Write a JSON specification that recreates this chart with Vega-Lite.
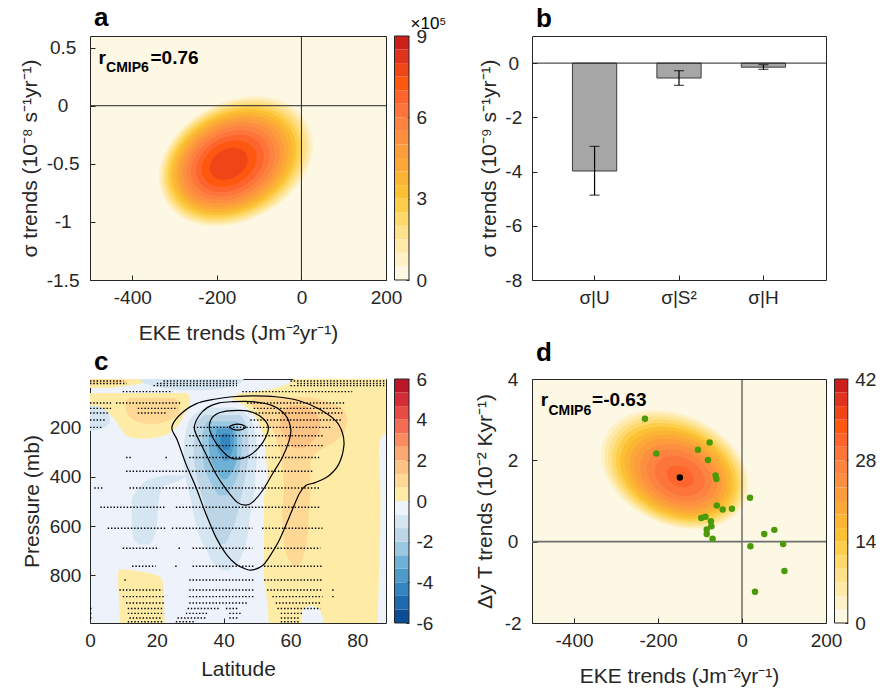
{
"$schema":"https://vega.github.io/schema/vega-lite/v6.json",
"background":"white",
"padding":{"left":18,"top":4,"right":0,"bottom":0},
"config":{
 "font":"Liberation Sans",
 "view":{"stroke":"#262626","strokeWidth":1},
 "axis":{"grid":false,"domain":false,"labelFont":"Liberation Sans","titleFont":"Liberation Sans","labelFontSize":19,"titleFontSize":21,"titleFontWeight":"normal","labelColor":"#262626","titleColor":"#262626","tickColor":"#262626","tickSize":-5,"tickWidth":1,"labelFlush":false,"labelOverlap":false,"zindex":1},
 "title":{"font":"Liberation Sans","fontSize":26,"fontWeight":"bold","anchor":"start","color":"black","dx":4,"offset":4.5,"baseline":"alphabetic","frame":"group"},
 "text":{"font":"Liberation Sans"}
},
"datasets":{
 "dens_a":[{"x":-155,"y":-0.478,"level":0.5},{"x":-156,"y":-0.48,"level":1},{"x":-157,"y":-0.481,"level":1.5},{"x":-159,"y":-0.483,"level":2},{"x":-160,"y":-0.484,"level":2.5},{"x":-161,"y":-0.486,"level":3},{"x":-162,"y":-0.487,"level":3.5},{"x":-163,"y":-0.489,"level":4},{"x":-165,"y":-0.491,"level":4.5},{"x":-166,"y":-0.492,"level":5},{"x":-167,"y":-0.494,"level":5.5},{"x":-168,"y":-0.495,"level":6},{"x":-169,"y":-0.497,"level":6.5},{"x":-171,"y":-0.498,"level":7},{"x":-172,"y":-0.5,"level":7.5}],
 "dens_d":[{"x":-160,"y":1.77,"level":2.333},{"x":-159,"y":1.756,"level":4.667},{"x":-158,"y":1.742,"level":7},{"x":-157,"y":1.728,"level":9.333},{"x":-156,"y":1.713,"level":11.667},{"x":-155,"y":1.699,"level":14},{"x":-153.5,"y":1.685,"level":16.333},{"x":-152.5,"y":1.671,"level":18.667},{"x":-151.5,"y":1.657,"level":21},{"x":-150.5,"y":1.643,"level":23.333},{"x":-149.5,"y":1.628,"level":25.667},{"x":-148,"y":1.614,"level":28},{"x":-147,"y":1.6,"level":30.333}],
 "pts_d":[{"x":-231,"y":3.02},{"x":-204,"y":2.17},{"x":-105,"y":2.26},{"x":-77,"y":2.44},{"x":-81,"y":2.01},{"x":-63,"y":1.63},{"x":-61,"y":1.54},{"x":-60,"y":0.89},{"x":-46,"y":0.79},{"x":-24,"y":0.81},{"x":-97,"y":0.58},{"x":-87,"y":0.61},{"x":-74,"y":0.5},{"x":-73,"y":0.38},{"x":-84,"y":0.3},{"x":-84,"y":0.19},{"x":-70,"y":0.07},{"x":19,"y":1.08},{"x":53,"y":0.19},{"x":77,"y":0.29},{"x":20,"y":-0.11},{"x":98,"y":-0.06},{"x":101,"y":-0.72},{"x":31,"y":-1.23}],
 "obs_d":[{"x":-148,"y":1.58}],
 "bars":[{"c":"σ|U","v":-3.98,"lo":-4.87,"hi":-3.07},{"c":"σ|S²","v":-0.55,"lo":-0.82,"hi":-0.28},{"c":"σ|H","v":-0.15,"lo":-0.23,"hi":-0.06}],
 "cb_a":[{"lo":0,"hi":0.5},{"lo":0.5,"hi":1},{"lo":1,"hi":1.5},{"lo":1.5,"hi":2},{"lo":2,"hi":2.5},{"lo":2.5,"hi":3},{"lo":3,"hi":3.5},{"lo":3.5,"hi":4},{"lo":4,"hi":4.5},{"lo":4.5,"hi":5},{"lo":5,"hi":5.5},{"lo":5.5,"hi":6},{"lo":6,"hi":6.5},{"lo":6.5,"hi":7},{"lo":7,"hi":7.5},{"lo":7.5,"hi":8},{"lo":8,"hi":8.5},{"lo":8.5,"hi":9}],
 "cb_c":[{"lo":-6,"hi":-5.333},{"lo":-5.333,"hi":-4.667},{"lo":-4.667,"hi":-4},{"lo":-4,"hi":-3.333},{"lo":-3.333,"hi":-2.667},{"lo":-2.667,"hi":-2},{"lo":-2,"hi":-1.333},{"lo":-1.333,"hi":-0.667},{"lo":-0.667,"hi":0},{"lo":0,"hi":0.667},{"lo":0.667,"hi":1.333},{"lo":1.333,"hi":2},{"lo":2,"hi":2.667},{"lo":2.667,"hi":3.333},{"lo":3.333,"hi":4},{"lo":4,"hi":4.667},{"lo":4.667,"hi":5.333},{"lo":5.333,"hi":6}],
 "cb_d":[{"lo":0,"hi":2.333},{"lo":2.333,"hi":4.667},{"lo":4.667,"hi":7},{"lo":7,"hi":9.333},{"lo":9.333,"hi":11.667},{"lo":11.667,"hi":14},{"lo":14,"hi":16.333},{"lo":16.333,"hi":18.667},{"lo":18.667,"hi":21},{"lo":21,"hi":23.333},{"lo":23.333,"hi":25.667},{"lo":25.667,"hi":28},{"lo":28,"hi":30.333},{"lo":30.333,"hi":32.667},{"lo":32.667,"hi":35},{"lo":35,"hi":37.333},{"lo":37.333,"hi":39.667},{"lo":39.667,"hi":42}],
 "regions":[
  {"r":"YT","v":0.3,"p":4,"l1":0,"l2":16},{"r":"YT","v":0.3,"p":15,"l1":0,"l2":17},{"r":"YT","v":0.3,"p":28,"l1":0,"l2":13},{"r":"YT","v":0.3,"p":40,"l1":0,"l2":6},
  {"r":"OC","v":1.0,"p":6,"l1":0,"l2":10},{"r":"OC","v":1.0,"p":15,"l1":0,"l2":11},{"r":"OC","v":1.0,"p":26,"l1":0,"l2":8},
  {"r":"YA","v":0.3,"p":4,"l1":61,"l2":88.6},{"r":"YA","v":0.3,"p":30,"l1":58,"l2":88.6},{"r":"YA","v":0.3,"p":50,"l1":52,"l2":88.6},{"r":"YA","v":0.3,"p":65,"l1":44,"l2":88.6},{"r":"YA","v":0.3,"p":80,"l1":42.5,"l2":88.6},{"r":"YA","v":0.3,"p":110,"l1":46,"l2":88.6},{"r":"YA","v":0.3,"p":140,"l1":48.5,"l2":88.6},{"r":"YA","v":0.3,"p":170,"l1":50,"l2":88.6},{"r":"YA","v":0.3,"p":220,"l1":51.6,"l2":88.6},{"r":"YA","v":0.3,"p":235,"l1":52,"l2":87.3},{"r":"YA","v":0.3,"p":300,"l1":52.5,"l2":86.5},{"r":"YA","v":0.3,"p":400,"l1":53,"l2":86.8},{"r":"YA","v":0.3,"p":500,"l1":52,"l2":87},{"r":"YA","v":0.3,"p":650,"l1":52,"l2":86.8},{"r":"YA","v":0.3,"p":800,"l1":52,"l2":86.5},{"r":"YA","v":0.3,"p":900,"l1":53,"l2":86.3},{"r":"YA","v":0.3,"p":993,"l1":53.5,"l2":86},
  {"r":"YB","v":0.3,"p":61,"l1":0,"l2":29},{"r":"YB","v":0.3,"p":90,"l1":0,"l2":30},{"r":"YB","v":0.3,"p":115,"l1":0,"l2":29.5},{"r":"YB","v":0.3,"p":140,"l1":5,"l2":28.5},{"r":"YB","v":0.3,"p":180,"l1":8,"l2":27},{"r":"YB","v":0.3,"p":210,"l1":9.5,"l2":25},{"r":"YB","v":0.3,"p":234,"l1":11,"l2":22},{"r":"YB","v":0.3,"p":245,"l1":14,"l2":18},
  {"r":"OB","v":1.0,"p":80,"l1":12,"l2":25},{"r":"OB","v":1.0,"p":100,"l1":10.5,"l2":27},{"r":"OB","v":1.0,"p":140,"l1":11,"l2":26.5},{"r":"OB","v":1.0,"p":170,"l1":13,"l2":24},{"r":"OB","v":1.0,"p":185,"l1":16,"l2":20.5},
  {"r":"YC","v":0.3,"p":776,"l1":8.8,"l2":11},{"r":"YC","v":0.3,"p":795,"l1":8.3,"l2":19},{"r":"YC","v":0.3,"p":815,"l1":8.3,"l2":21.5},{"r":"YC","v":0.3,"p":860,"l1":8.5,"l2":22},{"r":"YC","v":0.3,"p":993,"l1":9,"l2":22.3},
  {"r":"OA","v":1.0,"p":78,"l1":49,"l2":66},{"r":"OA","v":1.0,"p":100,"l1":48,"l2":72},{"r":"OA","v":1.0,"p":130,"l1":50,"l2":76},{"r":"OA","v":1.0,"p":170,"l1":52,"l2":77},{"r":"OA","v":1.0,"p":220,"l1":55,"l2":76},{"r":"OA","v":1.0,"p":260,"l1":56,"l2":73},{"r":"OA","v":1.0,"p":300,"l1":57,"l2":68},{"r":"OA","v":1.0,"p":350,"l1":57.5,"l2":66},{"r":"OA","v":1.0,"p":450,"l1":58,"l2":66},{"r":"OA","v":1.0,"p":550,"l1":57.5,"l2":65.5},{"r":"OA","v":1.0,"p":650,"l1":58,"l2":65},{"r":"OA","v":1.0,"p":720,"l1":59,"l2":64},{"r":"OA","v":1.0,"p":765,"l1":61,"l2":62.5},
  {"r":"OA2","v":1.6,"p":110,"l1":60,"l2":64},{"r":"OA2","v":1.6,"p":150,"l1":57,"l2":68},{"r":"OA2","v":1.6,"p":200,"l1":57,"l2":69},{"r":"OA2","v":1.6,"p":250,"l1":59,"l2":67},{"r":"OA2","v":1.6,"p":285,"l1":61,"l2":64},
  {"r":"BZ","v":-0.3,"p":925,"l1":65,"l2":67},{"r":"BZ","v":-0.3,"p":945,"l1":63.5,"l2":69},{"r":"BZ","v":-0.3,"p":993,"l1":63.5,"l2":70},
  {"r":"BT","v":-1.0,"p":4,"l1":15,"l2":46},{"r":"BT","v":-1.0,"p":20,"l1":16,"l2":45},{"r":"BT","v":-1.0,"p":35,"l1":20,"l2":42},{"r":"BT","v":-1.0,"p":50,"l1":27,"l2":35},
  {"r":"BL","v":-1.0,"p":112,"l1":0,"l2":2},{"r":"BL","v":-1.0,"p":140,"l1":0,"l2":5.5},{"r":"BL","v":-1.0,"p":170,"l1":0,"l2":6},{"r":"BL","v":-1.0,"p":200,"l1":0,"l2":4.5},{"r":"BL","v":-1.0,"p":215,"l1":0,"l2":1},
  {"r":"BJ1","v":-1.0,"p":120,"l1":35,"l2":43},{"r":"BJ1","v":-1.0,"p":150,"l1":31,"l2":47},{"r":"BJ1","v":-1.0,"p":200,"l1":29,"l2":49},{"r":"BJ1","v":-1.0,"p":300,"l1":28,"l2":50},{"r":"BJ1","v":-1.0,"p":400,"l1":28.5,"l2":49.5},{"r":"BJ1","v":-1.0,"p":480,"l1":30,"l2":49},{"r":"BJ1","v":-1.0,"p":550,"l1":31,"l2":48},{"r":"BJ1","v":-1.0,"p":650,"l1":33,"l2":47},{"r":"BJ1","v":-1.0,"p":700,"l1":35,"l2":46},{"r":"BJ1","v":-1.0,"p":750,"l1":37,"l2":44},{"r":"BJ1","v":-1.0,"p":780,"l1":39.5,"l2":41.5},
  {"r":"BLL","v":-1.0,"p":395,"l1":22,"l2":29},{"r":"BLL","v":-1.0,"p":420,"l1":16.5,"l2":26},{"r":"BLL","v":-1.0,"p":440,"l1":15,"l2":22},{"r":"BLL","v":-1.0,"p":500,"l1":12.5,"l2":20.5},{"r":"BLL","v":-1.0,"p":600,"l1":12.5,"l2":20},{"r":"BLL","v":-1.0,"p":650,"l1":13,"l2":19},{"r":"BLL","v":-1.0,"p":675,"l1":15,"l2":18},
  {"r":"BJ2","v":-1.6,"p":150,"l1":34,"l2":45},{"r":"BJ2","v":-1.6,"p":200,"l1":31.5,"l2":47},{"r":"BJ2","v":-1.6,"p":300,"l1":31,"l2":47.5},{"r":"BJ2","v":-1.6,"p":400,"l1":32,"l2":46.5},{"r":"BJ2","v":-1.6,"p":500,"l1":34,"l2":45},{"r":"BJ2","v":-1.6,"p":600,"l1":36,"l2":43},{"r":"BJ2","v":-1.6,"p":673,"l1":39,"l2":40.5},
  {"r":"BJ3","v":-2.3,"p":175,"l1":35,"l2":44},{"r":"BJ3","v":-2.3,"p":250,"l1":33.5,"l2":45.5},{"r":"BJ3","v":-2.3,"p":350,"l1":34,"l2":45},{"r":"BJ3","v":-2.3,"p":420,"l1":36,"l2":43.5},{"r":"BJ3","v":-2.3,"p":475,"l1":38.5,"l2":41},
  {"r":"BJ4","v":-3.0,"p":195,"l1":36.5,"l2":43},{"r":"BJ4","v":-3.0,"p":250,"l1":35.5,"l2":44},{"r":"BJ4","v":-3.0,"p":320,"l1":36,"l2":44},{"r":"BJ4","v":-3.0,"p":380,"l1":38,"l2":42.5},{"r":"BJ4","v":-3.0,"p":410,"l1":39.5,"l2":41},
  {"r":"BJ5","v":-3.7,"p":205,"l1":38,"l2":42.5},{"r":"BJ5","v":-3.7,"p":250,"l1":37.5,"l2":43},{"r":"BJ5","v":-3.7,"p":300,"l1":38.5,"l2":42.5},{"r":"BJ5","v":-3.7,"p":335,"l1":40,"l2":41.5},
  {"r":"BJ6","v":-4.3,"p":225,"l1":39.5,"l2":41.5},{"r":"BJ6","v":-4.3,"p":260,"l1":39,"l2":42},{"r":"BJ6","v":-4.3,"p":292,"l1":40,"l2":41.5}
 ],
 "stip":[
  {"p":12,"a1":0,"a2":10},{"p":12,"a1":22,"a2":44},{"p":12,"a1":60,"a2":88.5},
  {"p":22,"a1":0,"a2":11},{"p":22,"a1":20,"a2":44},{"p":22,"a1":62,"a2":88.5},
  {"p":31,"a1":19,"a2":44},{"p":31,"a1":60,"a2":88.5},
  {"p":55,"a1":9.8,"a2":24.7},{"p":55,"a1":45.6,"a2":78.5},
  {"p":101,"a1":0,"a2":6.3},{"p":101,"a1":7.8,"a2":27.2},{"p":101,"a1":47,"a2":76.5},
  {"p":123,"a1":0,"a2":6.3},{"p":123,"a1":14.3,"a2":26.2},{"p":123,"a1":49,"a2":75},
  {"p":142,"a1":0,"a2":5.3},{"p":142,"a1":14.3,"a2":22.6},{"p":142,"a1":49.5,"a2":75.5},
  {"p":170,"a1":0,"a2":4.8},{"p":170,"a1":48,"a2":75.5},
  {"p":200,"a1":0,"a2":3.8},{"p":200,"a1":31,"a2":72.5},
  {"p":234,"a1":29.7,"a2":69.6},
  {"p":274,"a1":28.7,"a2":69.6},
  {"p":322,"a1":10.8,"a2":12.3},{"p":322,"a1":22.6,"a2":23.2},{"p":322,"a1":29.7,"a2":68.6},
  {"p":378,"a1":10.8,"a2":66.6},
  {"p":446,"a1":1.3,"a2":3.8},{"p":446,"a1":11.8,"a2":68.6},
  {"p":524,"a1":3.1,"a2":22.7},{"p":524,"a1":25.7,"a2":68.6},
  {"p":609,"a1":5.3,"a2":22.7},{"p":609,"a1":24.5,"a2":25},{"p":609,"a1":25.7,"a2":48.6},{"p":609,"a1":51.5,"a2":69.6},
  {"p":690,"a1":9.8,"a2":20.7},{"p":690,"a1":26.5,"a2":27},{"p":690,"a1":30.7,"a2":48.6},{"p":690,"a1":52.1,"a2":69},
  {"p":763,"a1":12.6,"a2":19.7},{"p":763,"a1":25.5,"a2":26},{"p":763,"a1":30.7,"a2":49.1},{"p":763,"a1":52.1,"a2":69.6},
  {"p":819,"a1":10.3,"a2":11.3},{"p":819,"a1":29.7,"a2":49.1},{"p":819,"a1":52.1,"a2":69.6},
  {"p":859,"a1":8.8,"a2":21.7},{"p":859,"a1":29.7,"a2":49.1},{"p":859,"a1":53,"a2":69.6},{"p":859,"a1":72.5,"a2":73.5},
  {"p":886,"a1":9.8,"a2":22.2},{"p":886,"a1":29.7,"a2":49.1},{"p":886,"a1":54.6,"a2":69.6},{"p":886,"a1":72.5,"a2":73.5},
  {"p":912,"a1":10.8,"a2":22.2},{"p":912,"a1":29.7,"a2":47.1},{"p":912,"a1":55.6,"a2":69},
  {"p":934,"a1":0,"a2":0.8},{"p":934,"a1":11.3,"a2":22.2},{"p":934,"a1":29.2,"a2":38.7},{"p":934,"a1":40.7,"a2":44.6},{"p":934,"a1":56.1,"a2":69},
  {"p":954,"a1":0,"a2":0.8},{"p":954,"a1":11.3,"a2":22.2},{"p":954,"a1":28.7,"a2":35.2},{"p":954,"a1":41.7,"a2":45.1},{"p":954,"a1":57.1,"a2":63.6},
  {"p":973,"a1":0,"a2":0.8},{"p":973,"a1":11.8,"a2":21.7},{"p":973,"a1":26.2,"a2":34.7},{"p":973,"a1":41.7,"a2":44.1},{"p":973,"a1":57.1,"a2":63},
  {"p":988,"a1":11.3,"a2":21.7},{"p":988,"a1":25.7,"a2":31.2},{"p":988,"a1":57.1,"a2":63}
 ],
 "cont":[
  {"id":1,"o":1,"lat":24.5,"p":202},{"id":1,"o":2,"lat":26.7,"p":152},{"id":1,"o":3,"lat":31.7,"p":105},{"id":1,"o":4,"lat":37.7,"p":85},{"id":1,"o":5,"lat":42.6,"p":76},{"id":1,"o":6,"lat":48.6,"p":72},{"id":1,"o":7,"lat":55.6,"p":76},{"id":1,"o":8,"lat":62.6,"p":92},{"id":1,"o":9,"lat":68.6,"p":126},{"id":1,"o":10,"lat":73.5,"p":173},{"id":1,"o":11,"lat":75.5,"p":220},{"id":1,"o":12,"lat":76,"p":274},{"id":1,"o":13,"lat":74.5,"p":348},{"id":1,"o":14,"lat":71.5,"p":396},{"id":1,"o":15,"lat":67.6,"p":423},{"id":1,"o":16,"lat":64.6,"p":436},{"id":1,"o":17,"lat":62.6,"p":470},{"id":1,"o":18,"lat":59.6,"p":565},{"id":1,"o":19,"lat":56.6,"p":659},{"id":1,"o":20,"lat":53.6,"p":727},{"id":1,"o":21,"lat":51.6,"p":761},{"id":1,"o":22,"lat":48.6,"p":778},{"id":1,"o":23,"lat":46.6,"p":774},{"id":1,"o":24,"lat":43.6,"p":754},{"id":1,"o":25,"lat":40.7,"p":713},{"id":1,"o":26,"lat":37.7,"p":646},{"id":1,"o":27,"lat":34.7,"p":551},{"id":1,"o":28,"lat":31.7,"p":443},{"id":1,"o":29,"lat":28.7,"p":348},{"id":1,"o":30,"lat":26.2,"p":254},
  {"id":2,"o":1,"lat":31.2,"p":200},{"id":2,"o":2,"lat":32.7,"p":152},{"id":2,"o":3,"lat":35.2,"p":119},{"id":2,"o":4,"lat":38.7,"p":101},{"id":2,"o":5,"lat":42.6,"p":96},{"id":2,"o":6,"lat":48.6,"p":96},{"id":2,"o":7,"lat":54.6,"p":112},{"id":2,"o":8,"lat":58.6,"p":152},{"id":2,"o":9,"lat":60.1,"p":207},{"id":2,"o":10,"lat":59.6,"p":254},{"id":2,"o":11,"lat":57.6,"p":321},{"id":2,"o":12,"lat":54.6,"p":389},{"id":2,"o":13,"lat":51.6,"p":457},{"id":2,"o":14,"lat":48.6,"p":504},{"id":2,"o":15,"lat":46.6,"p":515},{"id":2,"o":16,"lat":44.1,"p":504},{"id":2,"o":17,"lat":40.7,"p":450},{"id":2,"o":18,"lat":37.7,"p":389},{"id":2,"o":19,"lat":34.7,"p":308},{"id":2,"o":20,"lat":32.2,"p":240},
  {"id":3,"o":1,"lat":35.7,"p":200},{"id":3,"o":2,"lat":36.7,"p":159},{"id":3,"o":3,"lat":39.2,"p":139},{"id":3,"o":4,"lat":42.6,"p":132},{"id":3,"o":5,"lat":47.6,"p":135},{"id":3,"o":6,"lat":51.6,"p":162},{"id":3,"o":7,"lat":53.4,"p":200},{"id":3,"o":8,"lat":52.6,"p":240},{"id":3,"o":9,"lat":50.6,"p":281},{"id":3,"o":10,"lat":47.6,"p":315},{"id":3,"o":11,"lat":44.6,"p":328},{"id":3,"o":12,"lat":41.7,"p":321},{"id":3,"o":13,"lat":38.7,"p":281},{"id":3,"o":14,"lat":36.7,"p":240},
  {"id":4,"o":1,"lat":41.7,"p":199},{"id":4,"o":2,"lat":42.8,"p":190},{"id":4,"o":3,"lat":44.2,"p":187},{"id":4,"o":4,"lat":45.6,"p":190},{"id":4,"o":5,"lat":46.6,"p":199},{"id":4,"o":6,"lat":45.6,"p":208},{"id":4,"o":7,"lat":44.2,"p":211},{"id":4,"o":8,"lat":42.8,"p":208}
 ]
},
"columns":4,
"spacing":{"row":99,"column":8.5},
"bounds":"flush",
"resolve":{"scale":{"color":"independent","size":"independent","x":"independent","y":"independent"}},
"concat":[
 {"title":"a","width":296,"height":244,"view":{"fill":"#fdf8e4"},
  "layer":[
   {"data":{"name":"dens_a"},"mark":{"type":"point","shape":"M0.883,-0.469A1,0.72,-28,1,0,-0.883,0.469A1,0.72,-28,1,0,0.883,-0.469Z","filled":true,"opacity":1,"strokeWidth":0,"clip":true},
    "encoding":{
     "x":{"field":"x","type":"quantitative","title":"EKE trends (Jm⁻²yr⁻¹)","scale":{"domain":[-500,200],"nice":false,"zero":false},"axis":{"values":[-400,-200,0,200],"format":"~r","labelExpr":"replace(datum.label,'\u2212','-')","labelPadding":13.5,"titlePadding":14.5}},
     "y":{"field":"y","type":"quantitative","title":"σ trends (10⁻⁸ s⁻¹yr⁻¹)","scale":{"domain":[-1.5,0.6],"nice":false,"zero":false},"axis":{"values":[-1.5,-1,-0.5,0,0.5],"format":"~r","labelExpr":"replace(datum.label,'\u2212','-')","labelAlign":"center","labelPadding":32.4,"titlePadding":6}},
     "color":{"field":"level","type":"quantitative","scale":{"type":"threshold","domain":[0.5,1,1.5,2,2.5,3,3.5,4,4.5,5,5.5,6,6.5,7,7.5,8,8.5],"range":["#fdf8e4","#fef1c8","#fee9a9","#fee28b","#fed86b","#fdcd4c","#fcc035","#fcb434","#fca839","#fc9c3d","#fd9040","#fd8440","#fd753b","#fe652c","#fe5710","#ef4517","#df3320","#cd201b"]},"legend":null},
     "size":{"field":"level","type":"quantitative","scale":{"domain":[0.5,7.95],"range":[26180,0]},"legend":null}
    }},
   {"data":{"values":[{}]},"mark":{"type":"rule","color":"#262626","strokeWidth":1},"encoding":{"x":{"datum":0,"type":"quantitative"}}},
   {"data":{"values":[{}]},"mark":{"type":"rule","color":"#262626","strokeWidth":1},"encoding":{"y":{"datum":0,"type":"quantitative"}}},
   {"data":{"values":[{}]},"mark":{"type":"text","text":"r","fontSize":19,"fontWeight":"bold","align":"left","baseline":"alphabetic","color":"black"},"encoding":{"x":{"datum":-480,"type":"quantitative"},"y":{"datum":0.361,"type":"quantitative"}}},
   {"data":{"values":[{}]},"mark":{"type":"text","text":"CMIP6","fontSize":14,"fontWeight":"bold","align":"left","baseline":"alphabetic","color":"black"},"encoding":{"x":{"datum":-462,"type":"quantitative"},"y":{"datum":0.29,"type":"quantitative"}}},
   {"data":{"values":[{}]},"mark":{"type":"text","text":"=0.76","fontSize":19,"fontWeight":"bold","align":"left","baseline":"alphabetic","color":"black"},"encoding":{"x":{"datum":-357,"type":"quantitative"},"y":{"datum":0.361,"type":"quantitative"}}}
  ]},
 {"title":{"text":"×10⁵","fontSize":17,"fontWeight":"normal","dx":16,"offset":-5.5},"width":129,"height":244,"view":{"stroke":null},
  "layer":[
   {"data":{"name":"cb_a"},"mark":{"type":"rect"},
    "encoding":{
     "x":{"datum":0,"type":"quantitative","scale":{"domain":[0,1]},"axis":null},
     "x2":{"datum":0.1124},
     "y":{"field":"lo","type":"quantitative","scale":{"domain":[0,9],"nice":false,"zero":false},"axis":{"orient":"right","offset":-114.5,"values":[0,3,6,9],"title":null,"format":"~r","labelPadding":10,"tickSize":-3,"labelAlign":"left"}},
     "y2":{"field":"hi"},
     "color":{"field":"lo","type":"quantitative","scale":{"type":"threshold","domain":[0.5,1,1.5,2,2.5,3,3.5,4,4.5,5,5.5,6,6.5,7,7.5,8,8.5],"range":["#fdf8e4","#fef1c8","#fee9a9","#fee28b","#fed86b","#fdcd4c","#fcc035","#fcb434","#fca839","#fc9c3d","#fd9040","#fd8440","#fd753b","#fe652c","#fe5710","#ef4517","#df3320","#cd201b"]},"legend":null}
    }},
   {"data":{"values":[{}]},"mark":{"type":"rect","filled":false,"color":"#262626","strokeWidth":1},
    "encoding":{"x":{"datum":0,"type":"quantitative"},"x2":{"datum":0.1124},"y":{"datum":0,"type":"quantitative"},"y2":{"datum":9}}}
  ]},
 {"title":"b","width":294,"height":244,
  "layer":[
   {"data":{"name":"bars"},"mark":{"type":"bar","color":"#a6a6a6","stroke":"#3c3c3c","strokeWidth":1},
    "encoding":{
     "x":{"field":"c","type":"nominal","sort":null,"title":null,"scale":{"paddingInner":0.476,"paddingOuter":0.479},"axis":{"labelAngle":0,"labelPadding":13.5}},
     "y":{"field":"v","type":"quantitative","title":"σ trends (10⁻⁹ s⁻¹yr⁻¹)","scale":{"domain":[-8,1],"nice":false,"zero":false},"axis":{"values":[-8,-6,-4,-2,0],"format":"~r","labelExpr":"replace(datum.label,'\u2212','-')","labelAlign":"center","labelPadding":23.7,"titlePadding":5.6}},
     "y2":{"datum":0}
    }},
   {"data":{"values":[{}]},"mark":{"type":"rule","color":"#262626","strokeWidth":1},"encoding":{"y":{"datum":0,"type":"quantitative"}}},
   {"data":{"name":"bars"},"mark":{"type":"rule","color":"black","strokeWidth":1.2},
    "encoding":{"x":{"field":"c","type":"nominal","sort":null,"title":null},"y":{"field":"lo","type":"quantitative","title":"σ trends (10⁻⁹ s⁻¹yr⁻¹)","scale":{"domain":[-8,1],"nice":false,"zero":false}},"y2":{"field":"hi"}}},
   {"data":{"name":"bars"},"mark":{"type":"tick","color":"black","thickness":1.2,"size":10},
    "encoding":{"x":{"field":"c","type":"nominal","sort":null,"title":null},"y":{"field":"lo","type":"quantitative","title":"σ trends (10⁻⁹ s⁻¹yr⁻¹)","scale":{"domain":[-8,1],"nice":false,"zero":false}}}},
   {"data":{"name":"bars"},"mark":{"type":"tick","color":"black","thickness":1.2,"size":10},
    "encoding":{"x":{"field":"c","type":"nominal","sort":null,"title":null},"y":{"field":"hi","type":"quantitative","title":"σ trends (10⁻⁹ s⁻¹yr⁻¹)","scale":{"domain":[-8,1],"nice":false,"zero":false}}}}
  ]},
 {"width":13.3,"height":244,"view":{"stroke":null},"data":{"values":[{}]},"mark":{"type":"text","text":""}},
 {"title":"c","width":296,"height":244,"view":{"fill":"#eef3fb"},
  "layer":[
   {"data":{"name":"regions"},"mark":{"type":"area","orient":"horizontal","interpolate":"monotone","clip":true},
    "encoding":{
     "y":{"field":"p","type":"quantitative","title":"Pressure (mb)","scale":{"domain":[4,993],"reverse":true,"nice":false,"zero":false},"axis":{"values":[200,400,600,800],"format":"~r","labelAlign":"center","labelPadding":30,"titlePadding":6.6}},
     "x":{"field":"l1","type":"quantitative","title":"Latitude","scale":{"domain":[0,88.6],"nice":false,"zero":false},"axis":{"values":[0,20,40,60,80],"format":"~r","labelPadding":13.5,"titlePadding":8}},
     "x2":{"field":"l2"},
     "color":{"field":"v","type":"quantitative","scale":{"type":"threshold","domain":[-5.333,-4.667,-4,-3.333,-2.667,-2,-1.333,-0.667,0,0.667,1.333,2,2.667,3.333,4,4.667,5.333],"range":["#0b4e97","#1e6aae","#3484bf","#4e9bca","#6fb0d6","#9ac8e0","#bcd6e7","#d5e5f2","#eef3fb","#feeca6","#fed894","#fdc384","#fca872","#fa8c62","#f36d55","#e64b44","#d32e37","#bb162a"]},"legend":null},
     "detail":{"field":"r"}
    }},
   {"data":{"name":"stip"},"mark":{"type":"rule","color":"black","strokeWidth":1.4,"strokeDash":[1.4,1.9],"clip":true},
    "encoding":{
     "x":{"field":"a1","type":"quantitative","title":"Latitude","scale":{"domain":[0,88.6],"nice":false,"zero":false}},
     "x2":{"field":"a2"},
     "y":{"field":"p","type":"quantitative","title":"Pressure (mb)","scale":{"domain":[4,993],"reverse":true,"nice":false,"zero":false}}
    }},
   {"data":{"name":"cont"},"mark":{"type":"line","color":"black","strokeWidth":1.2,"interpolate":"cardinal-closed","clip":true},
    "encoding":{
     "x":{"field":"lat","type":"quantitative","title":"Latitude","scale":{"domain":[0,88.6],"nice":false,"zero":false}},
     "y":{"field":"p","type":"quantitative","title":"Pressure (mb)","scale":{"domain":[4,993],"reverse":true,"nice":false,"zero":false}},
     "detail":{"field":"id"},
     "order":{"field":"o","type":"quantitative"}
    }}
  ]},
 {"width":129,"height":244,"view":{"stroke":null},
  "layer":[
   {"data":{"name":"cb_c"},"mark":{"type":"rect"},
    "encoding":{
     "x":{"datum":0,"type":"quantitative","scale":{"domain":[0,1]},"axis":null},
     "x2":{"datum":0.1124},
     "y":{"field":"lo","type":"quantitative","scale":{"domain":[-6,6],"nice":false,"zero":false},"axis":{"orient":"right","offset":-114.5,"values":[-6,-4,-2,0,2,4,6],"title":null,"format":"~r","labelExpr":"replace(datum.label,'\u2212','-')","labelPadding":10,"tickSize":-3,"labelAlign":"left"}},
     "y2":{"field":"hi"},
     "color":{"field":"lo","type":"quantitative","scale":{"type":"threshold","domain":[-5.333,-4.667,-4,-3.333,-2.667,-2,-1.333,-0.667,0,0.667,1.333,2,2.667,3.333,4,4.667,5.333],"range":["#0b4e97","#1e6aae","#3484bf","#4e9bca","#6fb0d6","#9ac8e0","#bcd6e7","#d5e5f2","#eef3fb","#feeca6","#fed894","#fdc384","#fca872","#fa8c62","#f36d55","#e64b44","#d32e37","#bb162a"]},"legend":null}
    }},
   {"data":{"values":[{}]},"mark":{"type":"rect","filled":false,"color":"#262626","strokeWidth":1},
    "encoding":{"x":{"datum":0,"type":"quantitative"},"x2":{"datum":0.1124},"y":{"datum":-6,"type":"quantitative"},"y2":{"datum":6}}}
  ]},
 {"title":"d","width":294,"height":244,"view":{"fill":"#fdf8e4"},
  "layer":[
   {"data":{"name":"dens_d"},"mark":{"type":"point","shape":"M0.906,0.423A1,0.7,25,1,0,-0.906,-0.423A1,0.7,25,1,0,0.906,0.423Z","filled":true,"opacity":1,"strokeWidth":0,"clip":true},
    "encoding":{
     "x":{"field":"x","type":"quantitative","title":"EKE trends (Jm⁻²yr⁻¹)","scale":{"domain":[-500,200],"nice":false,"zero":false},"axis":{"values":[-400,-200,0,200],"format":"~r","labelExpr":"replace(datum.label,'\u2212','-')","labelPadding":13.5,"titlePadding":14.5}},
     "y":{"field":"y","type":"quantitative","title":"Δy T trends (10⁻² Kyr⁻¹)","scale":{"domain":[-2,4],"nice":false,"zero":false},"axis":{"values":[-2,0,2,4],"format":"~r","labelExpr":"replace(datum.label,'\u2212','-')","labelAlign":"center","labelPadding":24.4,"titlePadding":9}},
     "color":{"field":"level","type":"quantitative","scale":{"type":"threshold","domain":[2.333,4.667,7,9.333,11.667,14,16.333,18.667,21,23.333,25.667,28,30.333,32.667,35,37.333,39.667],"range":["#fdf8e4","#fef1c8","#fee9a9","#fee28b","#fed86b","#fdcd4c","#fcc035","#fcb434","#fca839","#fc9c3d","#fd9040","#fd8440","#fd753b","#fe652c","#fe5710","#ef4517","#df3320","#cd201b"]},"legend":null},
     "size":{"field":"level","type":"quantitative","scale":{"domain":[2.333,31.31],"range":[23716,0]},"legend":null}
    }},
   {"data":{"values":[{}]},"mark":{"type":"rule","color":"#262626","strokeWidth":1},"encoding":{"x":{"datum":0,"type":"quantitative"}}},
   {"data":{"values":[{}]},"mark":{"type":"rule","color":"#6e6e6e","strokeWidth":1.8},"encoding":{"y":{"datum":0,"type":"quantitative"}}},
   {"data":{"name":"pts_d"},"mark":{"type":"point","shape":"circle","filled":true,"opacity":1,"color":"#4a9a0a","size":42,"strokeWidth":0},
    "encoding":{
     "x":{"field":"x","type":"quantitative","title":"EKE trends (Jm⁻²yr⁻¹)","scale":{"domain":[-500,200],"nice":false,"zero":false}},
     "y":{"field":"y","type":"quantitative","title":"Δy T trends (10⁻² Kyr⁻¹)","scale":{"domain":[-2,4],"nice":false,"zero":false}}
    }},
   {"data":{"name":"obs_d"},"mark":{"type":"point","shape":"circle","filled":true,"opacity":1,"color":"black","size":42,"strokeWidth":0},
    "encoding":{
     "x":{"field":"x","type":"quantitative","title":"EKE trends (Jm⁻²yr⁻¹)","scale":{"domain":[-500,200],"nice":false,"zero":false}},
     "y":{"field":"y","type":"quantitative","title":"Δy T trends (10⁻² Kyr⁻¹)","scale":{"domain":[-2,4],"nice":false,"zero":false}}
    }},
   {"data":{"values":[{}]},"mark":{"type":"text","text":"r","fontSize":19,"fontWeight":"bold","align":"left","baseline":"alphabetic","color":"black"},"encoding":{"x":{"datum":-479,"type":"quantitative"},"y":{"datum":3.33,"type":"quantitative"}}},
   {"data":{"values":[{}]},"mark":{"type":"text","text":"CMIP6","fontSize":14,"fontWeight":"bold","align":"left","baseline":"alphabetic","color":"black"},"encoding":{"x":{"datum":-461,"type":"quantitative"},"y":{"datum":3.12,"type":"quantitative"}}},
   {"data":{"values":[{}]},"mark":{"type":"text","text":"=-0.63","fontSize":19,"fontWeight":"bold","align":"left","baseline":"alphabetic","color":"black"},"encoding":{"x":{"datum":-357,"type":"quantitative"},"y":{"datum":3.33,"type":"quantitative"}}}
  ]},
 {"width":13.3,"height":244,"view":{"stroke":null},
  "layer":[
   {"data":{"name":"cb_d"},"mark":{"type":"rect"},
    "encoding":{
     "x":{"datum":0,"type":"quantitative","scale":{"domain":[0,1]},"axis":null},
     "x2":{"datum":1},
     "y":{"field":"lo","type":"quantitative","scale":{"domain":[0,42],"nice":false,"zero":false},"axis":{"orient":"right","values":[0,14,28,42],"title":null,"format":"~r","labelPadding":10,"tickSize":-3,"labelAlign":"left"}},
     "y2":{"field":"hi"},
     "color":{"field":"lo","type":"quantitative","scale":{"type":"threshold","domain":[2.333,4.667,7,9.333,11.667,14,16.333,18.667,21,23.333,25.667,28,30.333,32.667,35,37.333,39.667],"range":["#fdf8e4","#fef1c8","#fee9a9","#fee28b","#fed86b","#fdcd4c","#fcc035","#fcb434","#fca839","#fc9c3d","#fd9040","#fd8440","#fd753b","#fe652c","#fe5710","#ef4517","#df3320","#cd201b"]},"legend":null}
    }},
   {"data":{"values":[{}]},"mark":{"type":"rect","filled":false,"color":"#262626","strokeWidth":1},
    "encoding":{"x":{"datum":0,"type":"quantitative"},"x2":{"datum":1},"y":{"datum":0,"type":"quantitative"},"y2":{"datum":42}}}
  ]}
]
}
